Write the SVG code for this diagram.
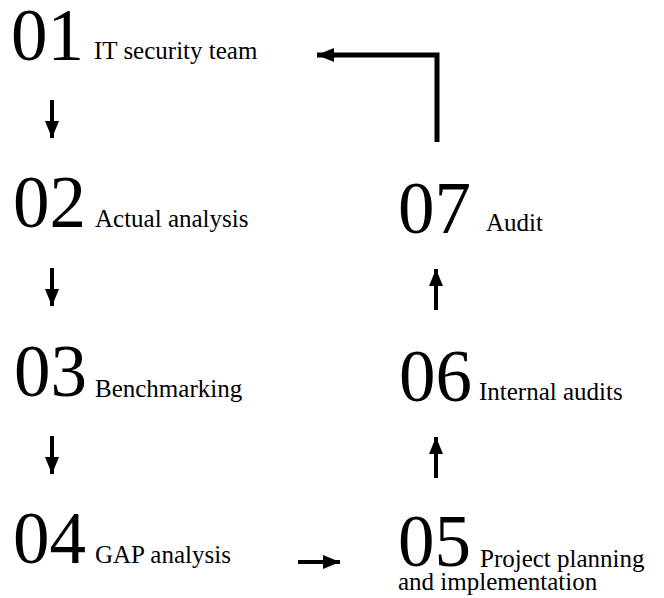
<svg xmlns="http://www.w3.org/2000/svg" width="664" height="598" viewBox="0 0 664 598">
  <style>
    text { font-family: "Liberation Serif", Tinos, "Times New Roman", Times, serif; fill: #000; }
    .num { font-size: 73px; }
    .lbl { font-size: 25px; }
    .conn { stroke: #000; stroke-width: 4; fill: none; }
    .loop { stroke: #000; stroke-width: 5; fill: none; }
  </style>
  <defs>
    <marker id="head" markerUnits="userSpaceOnUse" markerWidth="18" markerHeight="14" refX="17" refY="7" orient="auto">
      <path d="M0,0 L17,7 L0,14 Z" fill="#000"/>
    </marker>
  </defs>

  <g id="step-01">
    <text class="num" x="11" y="60">01</text>
    <text class="lbl" x="94" y="59">IT security team</text>
  </g>
  <g id="step-02">
    <text class="num" x="13" y="227">02</text>
    <text class="lbl" x="95" y="227">Actual analysis</text>
  </g>
  <g id="step-03">
    <text class="num" x="14" y="396">03</text>
    <text class="lbl" x="95" y="397">Benchmarking</text>
  </g>
  <g id="step-04">
    <text class="num" x="13" y="563">04</text>
    <text class="lbl" x="95" y="563">GAP analysis</text>
  </g>
  <g id="step-05">
    <text class="num" x="398" y="566">05</text>
    <text class="lbl" x="480" y="567">Project planning</text>
    <text class="lbl" x="398" y="590">and implementation</text>
  </g>
  <g id="step-06">
    <text class="num" x="399" y="401">06</text>
    <text class="lbl" x="479" y="400">Internal audits</text>
  </g>
  <g id="step-07">
    <text class="num" x="398" y="233">07</text>
    <text class="lbl" x="486" y="231">Audit</text>
  </g>

  <g id="connectors">
    <line class="conn" x1="52" y1="100" x2="52" y2="138" marker-end="url(#head)"/>
    <line class="conn" x1="52" y1="268" x2="52" y2="306" marker-end="url(#head)"/>
    <line class="conn" x1="52" y1="436" x2="52" y2="474" marker-end="url(#head)"/>
    <line class="conn" x1="298" y1="562" x2="340" y2="562" marker-end="url(#head)"/>
    <line class="conn" x1="436" y1="478" x2="436" y2="437" marker-end="url(#head)"/>
    <line class="conn" x1="436" y1="310" x2="436" y2="269" marker-end="url(#head)"/>
    <polyline class="loop" points="437,142 437,55 317,55" marker-end="url(#head)"/>
  </g>
</svg>
